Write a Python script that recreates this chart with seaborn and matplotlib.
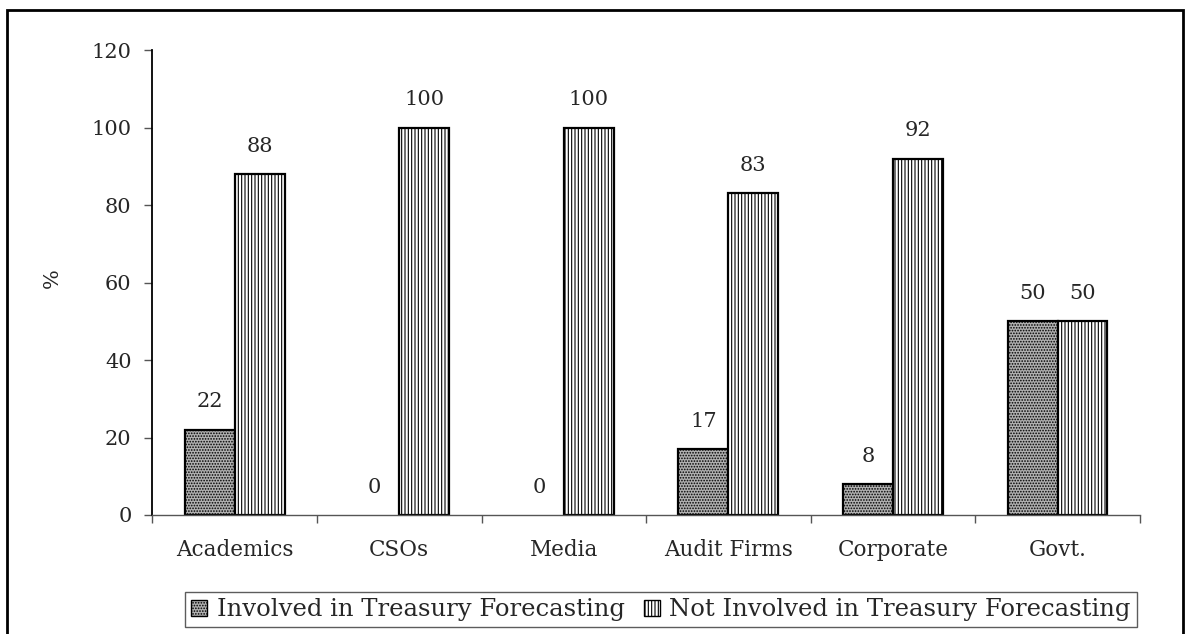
import matplotlib
matplotlib.use('Agg')
import matplotlib.pyplot as plt
from matplotlib.patches import Patch, Rectangle
import seaborn as sns
import pandas as pd

categories = ["Academics", "CSOs", "Media", "Audit Firms", "Corporate", "Govt."]
involved = [22, 0, 0, 17, 8, 50]
not_involved = [88, 100, 100, 83, 92, 50]
series = ["Involved in Treasury Forecasting", "Not Involved in Treasury Forecasting"]
y_ticks = [0, 20, 40, 60, 80, 100, 120]

sns.set_style('ticks')
plt.rcParams['font.family'] = ['DejaVu Serif']
plt.rcParams['hatch.linewidth'] = 0.8

df = pd.DataFrame({
    "group": categories * 2,
    "series": [series[0]] * len(categories) + [series[1]] * len(categories),
    "pct": involved + not_involved,
})

colors = ["#b0b0b0", "white"]
hatches = ["......", "|||||"]

fig = plt.figure(figsize=(11.91, 6.34), dpi=100)
ax = fig.add_axes([0.128, 0.1877, 0.829, 0.7334])
sns.barplot(data=df, x="group", y="pct", hue="series", hue_order=series, order=categories,
            width=0.607, palette=colors, edgecolor="black", linewidth=1.6,
            saturation=1, ax=ax, legend=False)

for cont, h in zip(ax.containers, hatches):
    for bar, v in zip(cont, cont.datavalues):
        bar.set_hatch(h)
        if v == 0:
            bar.set_linewidth(0)
        ax.annotate(f"{v:g}", (bar.get_x() + bar.get_width() / 2, bar.get_height()),
                    xytext=(0, 20), textcoords='offset points',
                    ha='center', va='center', fontsize=15)

ax.set_ylim(0, 120)
ax.set_yticks(y_ticks)
ax.set_xlim(-0.5, len(categories) - 0.5)
ax.set_xticks(range(len(categories)))
ax.set_xticklabels(categories, fontsize=15.5)
ax.set_xticks([i - 0.5 for i in range(len(categories) + 1)], minor=True)
ax.tick_params(axis='x', which='major', length=0, pad=17)
ax.tick_params(axis='x', which='minor', length=6, width=1, color='#555555', direction='out')
ax.tick_params(axis='y', length=6, width=1, color='#555555', pad=9, labelsize=15)
ax.set_xlabel("")
ax.set_ylabel("%", fontsize=15)
ax.yaxis.set_label_coords(-0.092, 0.51)

sns.despine(ax=ax)
ax.spines['left'].set_color('black')
ax.spines['left'].set_linewidth(1.3)
ax.spines['bottom'].set_color('#555555')
ax.spines['bottom'].set_linewidth(1)

handles = [Patch(facecolor=c, hatch=h, edgecolor='black', linewidth=1) for c, h in zip(colors, hatches)]
leg = fig.legend(handles, series, loc='center', bbox_to_anchor=(0.555, 0.038), ncol=2,
                 frameon=True, fancybox=False, fontsize=17.5, handlelength=0.65,
                 handleheight=0.65, handletextpad=0.4, columnspacing=0.8, borderpad=0.25)
leg.get_frame().set_edgecolor('#333333')
leg.get_frame().set_linewidth(1)

fig.add_artist(Rectangle((0.006, -0.05), 0.987, 1.034, transform=fig.transFigure,
                         fill=False, lw=2, ec='black'))

fig.savefig('out.png', dpi=100)
